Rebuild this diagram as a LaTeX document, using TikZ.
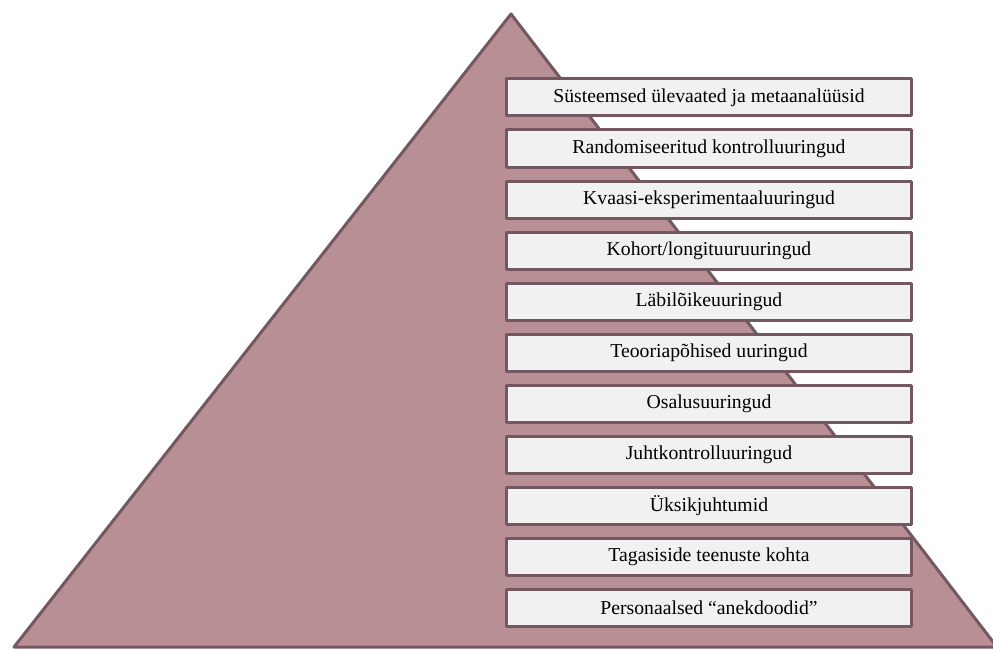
\documentclass[tikz,border=0pt]{standalone}
\usepackage{fontspec}
\setmainfont{Liberation Serif}
\definecolor{pyrfill}{RGB}{185,143,150}
\definecolor{pyrline}{RGB}{115,88,97}
\definecolor{boxfill}{RGB}{241,241,241}
\tikzset{
  pyr/.style={draw=pyrline,fill=pyrfill,line width=3pt},
  lvl/.style={draw=pyrline,fill=boxfill,line width=3pt,minimum width=405pt,
    minimum height=37pt,inner sep=0pt,font=\fontsize{19.7}{22}\selectfont}
}
\begin{document}
\begin{tikzpicture}[x=1pt,y=-1pt,line join=round]
\useasboundingbox (0,0) rectangle (993,650);
\draw[pyr] (14,647)--(511,14)--(997,647)--cycle;
% levels, top to bottom
\foreach \t [count=\i] in {Süsteemsed ülevaated ja metaanalüüsid,
  Randomiseeritud kontrolluuringud, Kvaasi-eksperimentaaluuringud,
  Kohort/longituuruuringud, Läbilõikeuuringud, Teooriapõhised uuringud,
  Osalusuuringud, Juhtkontrolluuringud, Üksikjuhtumid,
  Tagasiside teenuste kohta, Personaalsed “anekdoodid”}
  \node[lvl] (lvl\i) at (709,{97.5+51*(\i-1)}) {\t};
\end{tikzpicture}
\end{document}
